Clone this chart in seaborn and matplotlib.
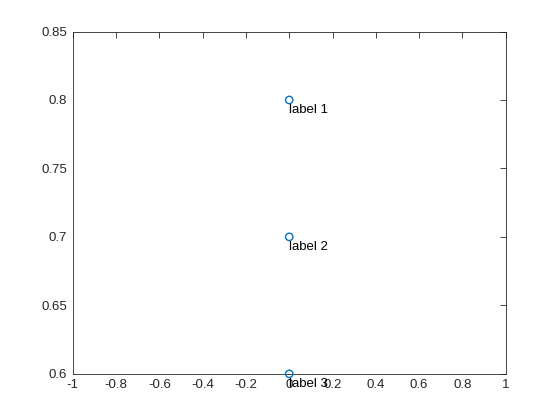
import matplotlib
matplotlib.use("Agg")
import matplotlib.pyplot as plt
import matplotlib.transforms as mtransforms
import seaborn as sns
import pandas as pd

# data
xs = [0, 0, 0]
ys = [0.8, 0.7, 0.6]
labels = ["label 1", "label 2", "label 3"]

data = pd.DataFrame({"x": xs, "y": ys, "label": labels})

sns.set_style("white")
plt.rcParams["font.family"] = ["Liberation Sans", "DejaVu Sans"]

fig = plt.figure(figsize=(5.6, 4.2), dpi=100)
ax = fig.add_axes([0.13, 0.11, 0.773, 0.815])

sns.scatterplot(x="x", y="y", data=data, ax=ax, marker="o", s=28,
                facecolors="none", edgecolor="#0072BD", linewidth=1.0,
                clip_on=False, zorder=3)

# labels sit just under the point, like matlab text()
shift = mtransforms.offset_copy(ax.transData, fig=fig, x=0, y=-3, units="points")
for _, row in data.iterrows():
    ax.text(row["x"], row["y"], row["label"], fontsize=9.5,
            ha="left", va="top", color="black", transform=shift)

ax.set_xlim(-1, 1)
ax.set_ylim(0.6, 0.85)
ax.set_xticks([-1, -0.8, -0.6, -0.4, -0.2, 0, 0.2, 0.4, 0.6, 0.8, 1])
ax.set_xticklabels(["-1", "-0.8", "-0.6", "-0.4", "-0.2", "0", "0.2", "0.4", "0.6", "0.8", "1"])
ax.set_yticks([0.6, 0.65, 0.7, 0.75, 0.8, 0.85])
ax.set_yticklabels(["0.6", "0.65", "0.7", "0.75", "0.8", "0.85"])
ax.set_xlabel("")
ax.set_ylabel("")

ax.tick_params(direction="in", length=4, width=0.6, top=True, right=True,
               labelsize=9.5, colors="#262626", pad=4)
for s in ax.spines.values():
    s.set_visible(True)
    s.set_color("#262626")
    s.set_linewidth(0.6)

fig.savefig("out.png", dpi=100)
